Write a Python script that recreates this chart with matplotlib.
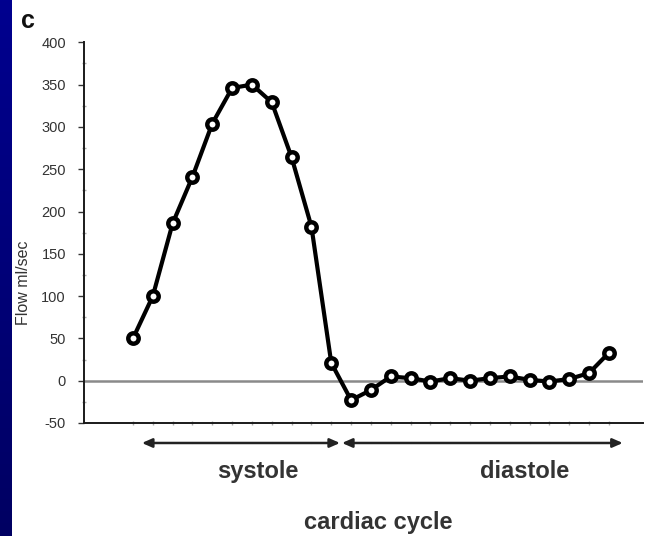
import numpy as np
import matplotlib

matplotlib.use("Agg")
import matplotlib.pyplot as plt
from matplotlib.ticker import MultipleLocator

# flow through the cardiac cycle, one reading per step
steps = list(range(25))
flow = [50, 100, 186, 241, 304, 346, 350, 329, 264, 182, 21, -23, -11,
        5, 3, -1, 3, 0, 3, 5, 1, -1, 2, 9, 33]
y_ticks = [-50, 0, 50, 100, 150, 200, 250, 300, 350, 400]
phases = ["systole", "diastole"]
phase_span = [(0.45, 10.44), (10.54, 24.7)]

plt.rcParams["font.family"] = ["Liberation Sans", "DejaVu Sans"]
plt.rcParams["axes.unicode_minus"] = False

W, H = 646, 536
fig = plt.figure(figsize=(W / 100, H / 100), dpi=100)
fig.patch.set_facecolor("white")

# dark blue strip on the left edge
strip = fig.add_axes([0, 0, 12 / W, 1])
grad = np.linspace(0, 1, 256).reshape(-1, 1)
strip.imshow(grad, aspect="auto", cmap=matplotlib.colors.LinearSegmentedColormap.from_list(
    "navy", ["#00008f", "#000062"]), extent=[0, 1, 0, 1])
strip.axis("off")

ax = fig.add_axes([84 / W, 113 / H, (643 - 84) / W, (493.7 - 113) / H])
ax.set_xlim(-2.47, 25.72)
ax.set_ylim(-50, 400)

ax.axhline(0, color="#8a8a8a", lw=1.8, zorder=1)
ax.plot(steps, flow, color="black", lw=3, marker="o", ms=7.5,
        mfc="white", mec="black", mew=3.2, zorder=3)

for side in ("top", "right"):
    ax.spines[side].set_visible(False)
for side in ("left", "bottom"):
    ax.spines[side].set_linewidth(1.4)
    ax.spines[side].set_color("#1a1a1a")

ax.set_yticks(y_ticks)
ax.yaxis.set_minor_locator(MultipleLocator(25))
ax.tick_params(axis="y", which="major", length=4, width=1, color="#333333",
               labelsize=10.5, labelcolor="#333333", pad=9)
ax.tick_params(axis="y", which="minor", length=3, width=1, color="#aaaaaa",
               direction="inout")
ax.set_xticks(steps)
ax.set_xticklabels([])
ax.tick_params(axis="x", length=3, width=1, color="#aaaaaa", direction="inout")

fig.text(24 / W, 1 - 283 / H, "Flow ml/sec", rotation=90, ha="center",
         va="center", fontsize=11.5, color="#333333")
fig.text(21 / W, 1 - 28 / H, "c", fontsize=18, fontweight="bold",
         color="#111111", ha="left", va="baseline")

text_x = [6.3, 19.77]
for name, (x0, x1), tx in zip(phases, phase_span, text_x):
    ax.annotate("", xy=(x1, -0.0525), xytext=(x0, -0.0525),
                xycoords=("data", "axes fraction"),
                textcoords=("data", "axes fraction"),
                arrowprops=dict(arrowstyle="<|-|>,head_length=0.5,head_width=0.22",
                                mutation_scale=12, color="#222222", lw=1.8,
                                shrinkA=0, shrinkB=0),
                annotation_clip=False)
    ax.text(tx, -0.1445, name, transform=ax.get_xaxis_transform(),
            ha="center", va="baseline", fontsize=17, fontweight="bold",
            color="#333333", clip_on=False)

ax.text(12.35, 7 / H, "cardiac cycle", transform=matplotlib.transforms.blended_transform_factory(
    ax.transData, fig.transFigure), ha="center", va="baseline", fontsize=17,
    fontweight="bold", color="#333333", clip_on=False)

fig.savefig("out.png", dpi=100)
plt.close(fig)
